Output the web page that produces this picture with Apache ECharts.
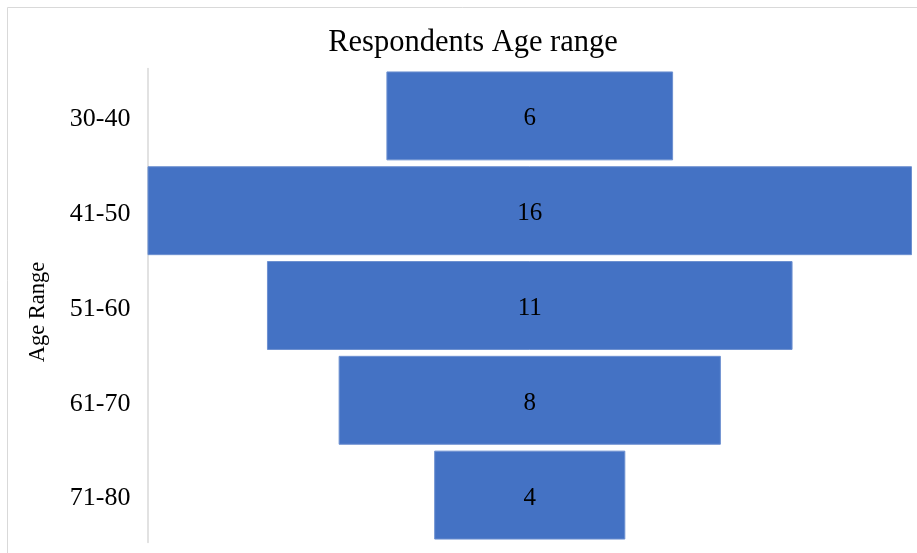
<!DOCTYPE html>
<html>
<head>
<meta charset="utf-8">
<script src="https://cdn.jsdelivr.net/npm/echarts@6/dist/echarts.min.js"></script>
<style>
  html, body { margin: 0; padding: 0; background: #fff; }
  #chart { width: 917px; height: 553px; }
</style>
</head>
<body>
<div id="chart"></div>
<script>
// Respondents by age range, drawn as centred bars
const ageRanges = ['30-40', '41-50', '51-60', '61-70', '71-80'];
const respondents = [6, 16, 11, 8, 4];
const axisMax = 16;

// invisible spacer that pushes each bar to the centre of the axis
const spacer = respondents.map(v => (axisMax - v) / 2);

const serif = '"Liberation Serif", "Times New Roman", serif';

const chart = echarts.init(document.getElementById('chart'), null, { renderer: 'canvas' });
chart.setOption({
  animation: false,
  backgroundColor: '#fff',
  title: {
    text: 'Respondents Age range',
    left: 468,
    textAlign: 'center',
    top: 22,
    textStyle: { fontFamily: serif, fontSize: 30.5, fontWeight: 'normal', color: '#000' }
  },
  graphic: [{
    type: 'rect',
    shape: { x: 7.5, y: 7.5, width: 920, height: 560 },
    style: { fill: 'none', stroke: '#d9d9d9', lineWidth: 1 },
    silent: true
  }, {
    type: 'text',
    x: 38,
    y: 312,
    rotation: Math.PI / 2,
    style: {
      text: 'Age Range',
      font: '22.5px ' + serif,
      fill: '#000',
      align: 'center',
      verticalAlign: 'middle'
    }
  }],
  grid: { left: 147.5, right: 5, top: 68.5, bottom: 10.5 },
  xAxis: {
    type: 'value',
    min: 0,
    max: axisMax,
    show: false
  },
  yAxis: {
    type: 'category',
    data: ageRanges,
    inverse: true,
    axisLine: { show: true, lineStyle: { color: '#d9d9d9', width: 1.5 } },
    axisTick: { show: false },
    axisLabel: {
      color: '#000',
      margin: 17,
      formatter: v => '{t|' + v + '}',
      rich: { t: { fontFamily: serif, fontSize: 26, color: '#000', padding: [7, 0, 0, 0] } }
    }
  },
  series: [{
    type: 'bar',
    stack: 'age',
    data: spacer,
    itemStyle: { color: 'transparent' },
    barCategoryGap: '6.2%',
    silent: true
  }, {
    type: 'bar',
    stack: 'age',
    data: respondents,
    barCategoryGap: '6.2%',
    itemStyle: { color: '#4472C4', borderColor: '#6d90d0', borderWidth: 1 },
    label: {
      show: true,
      position: 'inside',
      offset: [0, 3],
      fontFamily: serif,
      fontSize: 25,
      color: '#000'
    }
  }]
});
</script>
</body>
</html>
